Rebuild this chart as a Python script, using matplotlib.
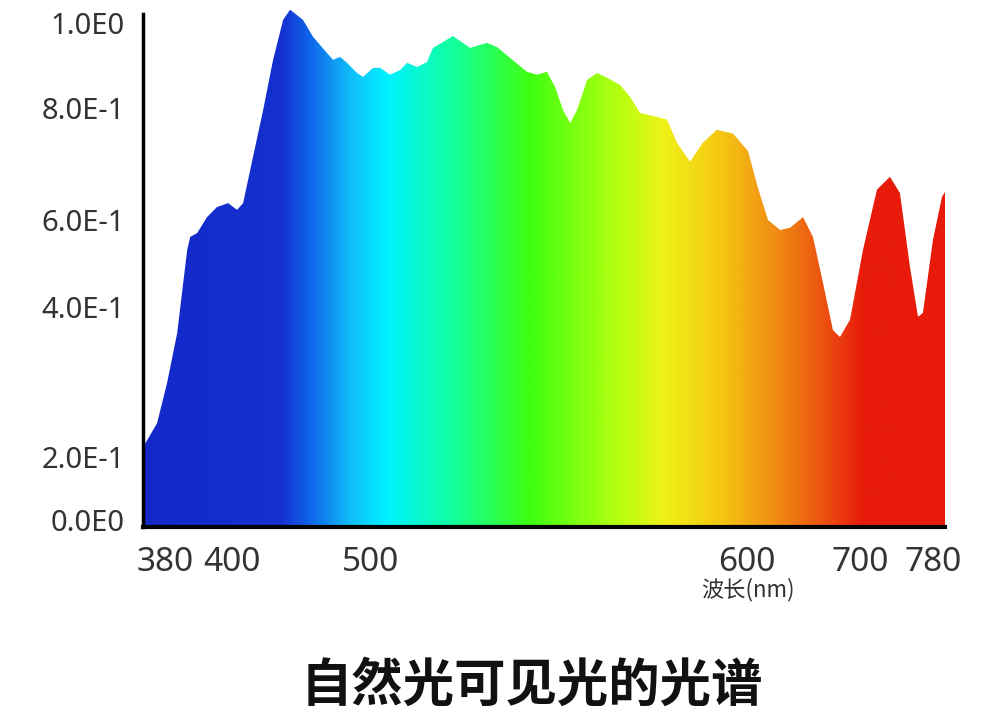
import numpy as np
import matplotlib.pyplot as plt
from matplotlib.colors import LinearSegmentedColormap

# spectrum: wavelength (nm) and relative intensity
wavelength = [373.4, 377.6, 380.6, 383.6, 385.4, 386.6, 387.5, 389.6, 392.5, 395.5,
              398.8, 403.6, 408.0, 415.2, 422.5, 429.7, 437.0, 442.0, 451.4, 458.7,
              468.8, 473.2, 478.3, 483.3, 490.6, 494.9, 500.8, 502.7, 505.3, 508.0,
              509.8, 512.5, 515.1, 516.7, 522.0, 526.5, 531.0, 533.7, 537.1, 541.6,
              544.3, 546.9, 549.1, 551.2, 553.1, 554.9, 557.6, 560.2, 562.9, 566.3,
              569.0, 571.6, 576.1, 578.8, 581.4, 584.9, 588.3, 592.0, 596.3, 600.9,
              609.7, 618.6, 629.2, 638.1, 649.6, 658.4, 667.3, 676.1, 682.3, 691.2,
              703.3, 718.6, 732.9, 743.8, 754.8, 763.6, 769.0, 780.0, 789.9, 793.2]
intensity = [0.213, 0.245, 0.299, 0.365, 0.455, 0.531, 0.561, 0.570, 0.605, 0.623,
             0.630, 0.618, 0.630, 0.713, 0.796, 0.913, 1.007, 1.031, 1.007, 0.967,
             0.929, 0.913, 0.920, 0.906, 0.882, 0.873, 0.894, 0.894, 0.878, 0.889,
             0.906, 0.896, 0.908, 0.941, 0.969, 0.941, 0.953, 0.943, 0.918, 0.885,
             0.878, 0.885, 0.849, 0.796, 0.773, 0.796, 0.866, 0.882, 0.871, 0.854,
             0.826, 0.791, 0.784, 0.779, 0.738, 0.704, 0.738, 0.761, 0.754, 0.723,
             0.657, 0.600, 0.577, 0.582, 0.605, 0.561, 0.455, 0.369, 0.360, 0.383,
             0.531, 0.654, 0.677, 0.648, 0.492, 0.387, 0.392, 0.554, 0.641, 0.650]

x_ticks = [380, 400, 500, 600, 700, 780]
x_labels = ['380', '400', '500', '600', '700', '780']
y_ticks = [0.0, 0.2, 0.4, 0.6, 0.8, 1.0]
y_labels = ['0.0E0', '2.0E-1', '4.0E-1', '6.0E-1', '8.0E-1', '1.0E0']

# the axes in the picture are not linear: where each tick sits (pixels)
x_tick_px = [165, 232, 370, 747, 860, 933]
y_tick_px = [7, 70, 220, 307, 419, 504]

# rainbow fill, stops in axes fraction
grad_pos = [0.0, 0.171, 0.208, 0.259, 0.304, 0.383, 0.483, 0.595, 0.651, 0.719, 0.794, 0.857, 0.897, 1.0]
grad_col = ['#1428c8', '#1430d0', '#1068ec', '#10c0f8', '#00f2ff', '#10ffa0', '#40ff10',
            '#b8ff10', '#f0f018', '#f5c812', '#f08812', '#ec4a10', '#e81c0a', '#e81a0a']


def piecewise(src, dst):
    src = np.asarray(src, float)
    dst = np.asarray(dst, float)
    k0 = (dst[1] - dst[0]) / (src[1] - src[0])
    k1 = (dst[-1] - dst[-2]) / (src[-1] - src[-2])
    s = np.r_[src[0] - 1e4, src, src[-1] + 1e4]
    d = np.r_[dst[0] - 1e4 * k0, dst, dst[-1] + 1e4 * k1]
    return (lambda v: np.interp(v, s, d)), (lambda p: np.interp(p, d, s))


fig = plt.figure(figsize=(10, 7.11), dpi=100)
ax = fig.add_axes([0.143, 184 / 711, 0.802, 522 / 711])
ax.set_xscale('function', functions=piecewise(x_ticks, x_tick_px))
ax.set_yscale('function', functions=piecewise(y_ticks, y_tick_px))

cmap = LinearSegmentedColormap.from_list('spec', list(zip(grad_pos, grad_col)))
im = ax.imshow(np.linspace(0, 1, 800)[None, :], cmap=cmap, aspect='auto',
               extent=[0, 1, 0, 1], transform=ax.transAxes, zorder=1)

ax.set_xlim(373.4, 793.2)
ax.set_ylim(-0.022, 1.042)
area = ax.fill_between(wavelength, intensity, ax.get_ylim()[0],
                       facecolor='none', linewidth=0)
im.set_clip_path(area.get_paths()[0], transform=ax.transData)

for s in ['top', 'right']:
    ax.spines[s].set_visible(False)
ax.spines['left'].set_linewidth(2.5)
ax.spines['bottom'].set_linewidth(3)
ax.spines['left'].set_bounds(-0.022, 1.021)
ax.spines['left'].set_zorder(3)
ax.spines['bottom'].set_zorder(3)

ax.set_xticks(x_ticks)
ax.set_xticklabels(x_labels, fontsize=24, family='Noto Sans', color='#333333')
ax.set_yticks(y_ticks)
ax.set_yticklabels(y_labels, fontsize=21, family='Noto Sans', color='#333333')
ax.tick_params(axis='x', length=0, pad=14)
ax.tick_params(axis='y', length=0, pad=13)
ax.minorticks_off()

fig.text(0.748, 1 - 590 / 711, '波长(nm)', ha='center', va='center', fontsize=16,
         color='#333333', family=['Noto Sans CJK SC', 'DejaVu Sans'])
fig.text(0.532, 1 - 685 / 711, '自然光可见光的光谱', ha='center', va='center',
         fontsize=37, fontweight='bold', color='#111111',
         family=['Noto Sans CJK SC', 'DejaVu Sans'])

fig.savefig('out.png', dpi=100)
